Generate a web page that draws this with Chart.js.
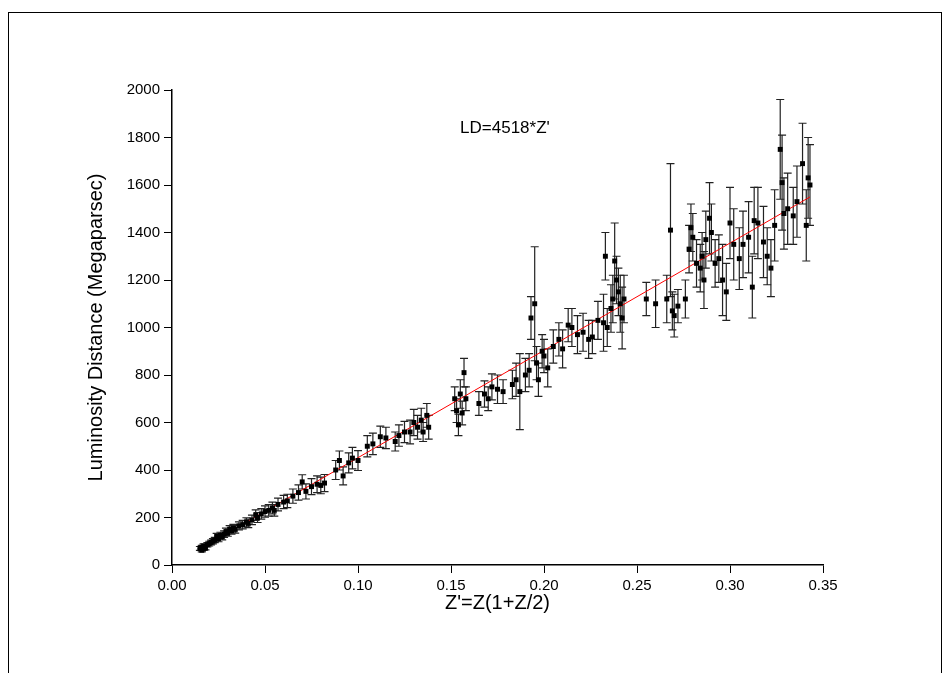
<!DOCTYPE html>
<html>
<head>
<meta charset="utf-8">
<script src="https://cdn.jsdelivr.net/npm/chart.js@4/dist/chart.umd.min.js"></script>
<style>
  body { margin: 0; background: #fff; }
  #frame { position: absolute; left: 8px; top: 12px; width: 932px; height: 670px; border: 1px solid #000; border-bottom: none; }
  canvas { position: absolute; left: 0; top: 0; }
</style>
</head>
<body>
<div id="frame"></div>
<canvas id="chart" width="949" height="673"></canvas>
<script>
// measured points: Z', luminosity distance, error
const zVals = [
  0.015, 0.016, 0.016, 0.017, 0.017, 0.018, 0.019, 0.020, 0.021, 0.022, 0.023, 0.024, 0.025, 0.026, 0.027, 0.028,
  0.029, 0.030, 0.031, 0.032, 0.033, 0.034, 0.036, 0.038, 0.040, 0.041, 0.043, 0.045, 0.046, 0.048, 0.050, 0.052,
  0.054, 0.055, 0.057, 0.060, 0.062, 0.065, 0.068, 0.070, 0.072, 0.075, 0.078, 0.080, 0.082, 0.088, 0.090, 0.092,
  0.095, 0.097, 0.100, 0.105, 0.108, 0.112, 0.115, 0.120, 0.122, 0.125, 0.128, 0.130, 0.132, 0.134, 0.135, 0.137,
  0.138, 0.152, 0.153, 0.154, 0.155, 0.157, 0.156, 0.158, 0.165, 0.168, 0.170, 0.172, 0.175, 0.178, 0.183, 0.185,
  0.187, 0.190, 0.192, 0.193, 0.195, 0.196, 0.197, 0.199, 0.200, 0.202, 0.205, 0.208, 0.210, 0.213, 0.215, 0.218,
  0.221, 0.224, 0.226, 0.229, 0.232, 0.233, 0.234, 0.236, 0.237, 0.238, 0.239, 0.240, 0.241, 0.242, 0.243, 0.255,
  0.260, 0.266, 0.268, 0.269, 0.270, 0.272, 0.276, 0.278, 0.279, 0.280, 0.282, 0.284, 0.285, 0.286, 0.287, 0.289,
  0.290, 0.292, 0.294, 0.296, 0.298, 0.300, 0.302, 0.305, 0.307, 0.310, 0.312, 0.313, 0.315, 0.318, 0.320, 0.322,
  0.324, 0.327, 0.328, 0.329, 0.331, 0.334, 0.336, 0.339, 0.341, 0.342, 0.343
];
const ldVals = [
  70, 75, 62, 80, 68, 72, 85, 90, 95, 100, 105, 120, 110, 125, 118, 130,
  140, 135, 150, 145, 155, 150, 165, 170, 180, 175, 190, 210, 200, 215, 225, 230,
  240, 230, 255, 265, 270, 290, 305, 350, 310, 330, 340, 335, 345, 400, 440, 375,
  430, 450, 440, 500, 510, 540, 535, 520, 545, 560, 560, 600, 580, 610, 560, 630,
  580, 700, 650, 590, 720, 810, 640, 700, 680, 720, 700, 750, 740, 730, 760, 780,
  730, 800, 820, 1040, 1100, 850, 780, 900, 880, 830, 920, 950, 910, 1010, 1000, 970,
  980, 950, 960, 1030, 1020, 1300, 1000, 1080, 1120, 1280, 1200, 1150, 1100, 1040, 1120, 1120,
  1100, 1120, 1410, 1070, 1050, 1090, 1120, 1330, 1420, 1380, 1270, 1250, 1300, 1200, 1370, 1460,
  1400, 1270, 1290, 1200, 1150, 1440, 1350, 1290, 1350, 1380, 1170, 1450, 1440, 1360, 1300, 1250,
  1430, 1750, 1610, 1480, 1500, 1470, 1530, 1690, 1430, 1630, 1600
];
const errVals = [
  8, 8, 7, 9, 7, 8, 9, 10, 10, 11, 11, 13, 12, 13, 12, 14,
  15, 14, 16, 15, 16, 16, 17, 18, 19, 18, 20, 22, 21, 22, 24, 24,
  25, 24, 27, 28, 28, 30, 32, 30, 32, 34, 35, 35, 36, 40, 40, 38,
  42, 45, 42, 45, 45, 45, 45, 40, 45, 45, 50, 55, 50, 50, 40, 50,
  50, 50, 50, 45, 60, 60, 50, 50, 50, 55, 50, 55, 60, 50, 60, 70,
  160, 70, 70, 90, 240, 70, 70, 70, 70, 80, 70, 70, 80, 70, 80, 80,
  80, 80, 70, 80, 120, 100, 80, 100, 100, 160, 100, 100, 120, 130, 100, 70,
  100, 100, 280, 80, 90, 70, 80, 100, 100, 100, 100, 100, 100, 120, 120, 150,
  120, 100, 100, 150, 120, 150, 150, 130, 140, 150, 130, 140, 150, 150, 120, 120,
  150, 210, 200, 150, 150, 120, 150, 170, 150, 170, 170
];
const fitSlope = 4518;
const fitRange = [0.015, 0.343];
const xTicks = [0, 0.05, 0.1, 0.15, 0.2, 0.25, 0.3, 0.35];

const points = zVals.map((z, i) => ({ x: z, y: ldVals[i], err: errVals[i] }));
const fitLine = fitRange.map((z) => ({ x: z, y: fitSlope * z }));

const errorBars = {
  id: 'errorBars',
  beforeDatasetsDraw(chart) {
    const { ctx, scales: { x, y } } = chart;
    ctx.save();
    ctx.strokeStyle = '#222';
    ctx.lineWidth = 1.2;
    points.forEach((p) => {
      const px = x.getPixelForValue(p.x);
      const top = y.getPixelForValue(p.y + p.err);
      const bot = y.getPixelForValue(p.y - p.err);
      ctx.beginPath();
      ctx.moveTo(px, top); ctx.lineTo(px, bot);
      ctx.moveTo(px - 4, top); ctx.lineTo(px + 4, top);
      ctx.moveTo(px - 4, bot); ctx.lineTo(px + 4, bot);
      ctx.stroke();
    });
    ctx.restore();
  },
};

const labelText = {
  id: 'labelText',
  afterDraw(chart) {
    const { ctx, scales: { x, y } } = chart;
    ctx.save();
    ctx.fillStyle = '#000';
    ctx.font = '17px "Liberation Sans", Arial';
    ctx.textAlign = 'center';
    ctx.textBaseline = 'middle';
    ctx.fillText("LD=4518*Z'", x.getPixelForValue(0.179), y.getPixelForValue(1840));
    ctx.restore();
  },
};

const tickFont = { family: '"Liberation Sans", Arial', size: 15 };

new Chart(document.getElementById('chart'), {
  type: 'scatter',
  data: {
    datasets: [
      {
        data: points,
        pointStyle: 'rect',
        pointRadius: 3.5,
        backgroundColor: '#000',
        borderColor: '#000',
        borderWidth: 0,
      },
      {
        type: 'line',
        data: fitLine,
        borderColor: '#ff0000',
        borderWidth: 1,
        pointRadius: 0,
      },
    ],
  },
  options: {
    responsive: false,
    animation: false,
    layout: { padding: { left: 80, right: 126, top: 90, bottom: 54 } },
    plugins: { legend: { display: false }, tooltip: { enabled: false } },
    scales: {
      x: {
        type: 'linear',
        min: 0,
        max: 0.35,
        afterFit: (s) => { s.height = 54; },
        afterBuildTicks: (s) => { s.ticks = xTicks.map((v) => ({ value: v })); },
        grid: { drawOnChartArea: false, tickLength: 8, color: '#000' },
        border: { color: '#000', width: 1.5 },
        ticks: { color: '#000', font: tickFont, padding: 4, callback: (v) => v.toFixed(2) },
        title: { display: true, text: "Z'=Z(1+Z/2)", color: '#000', font: { family: '"Liberation Sans", Arial', size: 20 }, padding: { top: 4 } },
      },
      y: {
        min: 0,
        max: 2000,
        afterFit: (s) => { s.width = 92; },
        grid: { drawOnChartArea: false, tickLength: 8, color: '#000' },
        border: { color: '#000', width: 1.5 },
        ticks: { color: '#000', font: tickFont, stepSize: 200, padding: 4, callback: (v) => String(v) },
        title: { display: true, text: 'Luminosity Distance (Megaparsec)', color: '#000', font: { family: '"Liberation Sans", Arial', size: 20 }, padding: { bottom: 6 } },
      },
    },
  },
  plugins: [errorBars, labelText],
});
</script>
</body>
</html>
